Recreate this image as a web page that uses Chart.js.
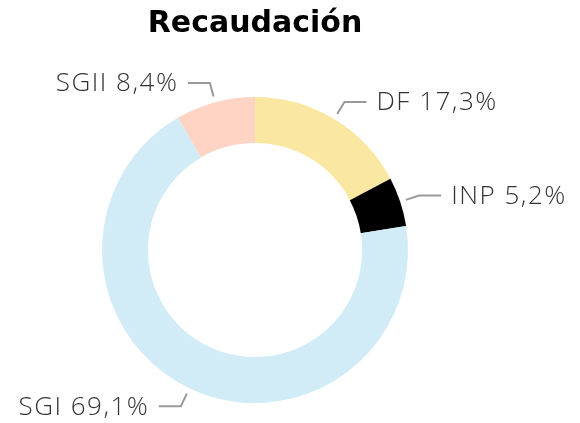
<!DOCTYPE html>
<html>
<head>
<meta charset="utf-8">
<script src="https://cdn.jsdelivr.net/npm/chart.js@4/dist/chart.umd.min.js"></script>
<style>
  html, body { margin: 0; padding: 0; background: #fff; }
  #wrap { width: 580px; height: 423px; }
</style>
</head>
<body>
<div id="wrap"><canvas id="recaudacion-chart"></canvas></div>
<script>
// データ
const categories = ['DF', 'INP', 'SGI', 'SGII'];
const shares = [17.3, 5.2, 69.1, 8.4];
const sliceColors = ['#FAE7A2', '#000000', '#D1ECF7', '#FFD4C4'];

// ラベル文字列 (小数点はカンマ)
function sliceLabel(i) {
  return categories[i] + ' ' + shares[i].toFixed(1).replace('.', ',') + '%';
}

// 外側ラベルと引き出し線
const outerLabels = {
  id: 'outerLabels',
  afterDatasetsDraw(chart) {
    const ctx = chart.ctx;
    const meta = chart.getDatasetMeta(0);
    ctx.save();
    ctx.font = "300 26px 'Open Sans', sans-serif";
    ctx.letterSpacing = '1.5px';
    ctx.textBaseline = 'middle';
    meta.data.forEach((arc, i) => {
      const p = arc.getProps(['x', 'y', 'startAngle', 'endAngle', 'outerRadius']);
      const a = (p.startAngle + p.endAngle) / 2;
      const r1 = p.outerRadius + 6;
      const r2 = p.outerRadius + 20;
      const x1 = p.x + Math.cos(a) * r1;
      const y1 = p.y + Math.sin(a) * r1;
      const x2 = p.x + Math.cos(a) * r2;
      const y2 = p.y + Math.sin(a) * r2;
      const right = Math.cos(a) >= 0;
      const x3 = x2 + (right ? 22 : -22);

      ctx.strokeStyle = '#999999';
      ctx.lineWidth = 2;
      ctx.beginPath();
      ctx.moveTo(x1, y1);
      ctx.lineTo(x2, y2);
      ctx.lineTo(x3, y2);
      ctx.stroke();

      ctx.fillStyle = '#333333';
      ctx.textAlign = right ? 'left' : 'right';
      // 右寄せ時は末尾の字間分を補正
      ctx.fillText(sliceLabel(i), x3 + (right ? 10 : -9.5), y2 + 1);
    });
    ctx.restore();
  }
};

const chart = new Chart(document.getElementById('recaudacion-chart'), {
  type: 'doughnut',
  data: {
    labels: categories,
    datasets: [{
      data: shares,
      backgroundColor: sliceColors,
      borderWidth: 0,
      hoverOffset: 0
    }]
  },
  options: {
    responsive: true,
    maintainAspectRatio: false,
    animation: false,
    cutout: '70%',
    layout: {
      padding: { left: 102, right: 172, top: 0, bottom: 20 }
    },
    plugins: {
      legend: { display: false },
      tooltip: { enabled: false },
      title: {
        display: true,
        text: 'Recaudación',
        fullSize: false,
        color: '#000000',
        font: { family: "'DejaVu Sans', sans-serif", size: 30, weight: 'bold', lineHeight: 1.2 },
        padding: { top: 6, bottom: 55 }
      }
    }
  },
  plugins: [outerLabels]
});
</script>
</body>
</html>
